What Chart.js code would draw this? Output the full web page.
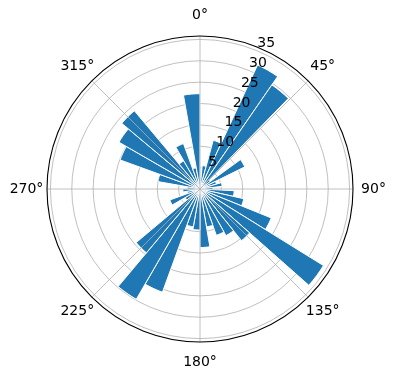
<!DOCTYPE html>
<html><head><meta charset="utf-8">
<script src="https://cdn.jsdelivr.net/npm/chart.js@4"></script>
<style>html,body{margin:0;padding:0;background:#fff;}</style>
</head><body>
<canvas id="c" width="396" height="380"></canvas>
<script>
// start direction of each bin (degrees, clockwise from north); first bin is empty
const binStarts = [0,5.5,15.2,24.9,34.6,44.3,54,63.7,73.4,83.1,92.8,102.5,112.1,121.8,131.5,141.2,150.9,160.6,170.3,
                   180,190,200,210,220,230,240,250,260,270,280,290,300,310,320,330,340,350];
const radii = [0,5.5,11.8,32,29.6,3,11.7,4,5.2,3,8,10.5,18,34,15.5,12.5,11.5,9,13.7,
               9.6,9,25.7,29.8,19.5,4,7.5,3,4,3,10,19.9,21.9,23.9,7.6,11.3,5,22.3];
const rTicks = [5,10,15,20,25,30,35];
const rTickLabels = ['5','10','15','20','25','30','35'];
const thetaTicks = [0,45,90,135,180,225,270,315];
const thetaLabels = ['0°','45°','90°','135°','180°','225°','270°','315°'];
const rMax = 35.8;
const rLabelAngle = 22.5;

const binWidths = binStarts.map((s, i) => (i + 1 < binStarts.length ? binStarts[i + 1] : 360) - s);

const FONT = '14px "DejaVu Sans"';
const toRad = d => (d - 90) * Math.PI / 180;

const polarDecor = {
  id: 'polarDecor',
  afterDraw(chart) {
    const s = chart.scales.r;
    const ctx = chart.ctx;
    const cx = s.xCenter, cy = s.yCenter, R = s.drawingArea;
    ctx.save();
    ctx.strokeStyle = '#b0b0b0';
    ctx.lineWidth = 0.8;
    thetaTicks.forEach(t => {
      const a = toRad(t);
      ctx.beginPath();
      ctx.moveTo(cx, cy);
      ctx.lineTo(cx + R * Math.cos(a), cy + R * Math.sin(a));
      ctx.stroke();
    });
    ctx.strokeStyle = '#000';
    ctx.lineWidth = 1.1;
    ctx.beginPath();
    ctx.arc(cx, cy, R, 0, 2 * Math.PI);
    ctx.stroke();
    ctx.fillStyle = '#000';
    ctx.font = FONT;
    ctx.textAlign = 'left';
    ctx.textBaseline = 'bottom';
    const ra = toRad(rLabelAngle);
    rTicks.forEach((v, i) => {
      const d = s.getDistanceFromCenterForValue(v);
      ctx.fillText(rTickLabels[i], cx + d * Math.cos(ra), cy + d * Math.sin(ra));
    });
    ctx.textAlign = 'center';
    ctx.textBaseline = 'middle';
    thetaTicks.forEach((t, i) => {
      const a = toRad(t);
      ctx.fillText(thetaLabels[i], cx + (R + 20.5) * Math.cos(a), cy + (R + 20.5) * Math.sin(a));
    });
    ctx.restore();
  }
};

new Chart(document.getElementById('c'), {
  type: 'polarArea',
  data: {
    labels: binStarts.map(d => d + '°'),
    datasets: [{
      data: radii,
      angle: ctx => binWidths[ctx.dataIndex],
      backgroundColor: ctx => radii[ctx.dataIndex] > 0 ? '#1f77b4' : 'rgba(0,0,0,0)',
      borderColor: '#ffffff',
      borderWidth: ctx => radii[ctx.dataIndex] > 0 ? 1 : 0
    }]
  },
  options: {
    responsive: false,
    animation: false,
    devicePixelRatio: 1,
    layout: { padding: { top: 36, bottom: 37, left: 46, right: 42 } },
    plugins: { legend: { display: false }, tooltip: { enabled: false } },
    scales: {
      r: {
        min: 0,
        max: rMax,
        z: 1,
        startAngle: binStarts[0],
        ticks: { display: false, stepSize: 5, includeBounds: false },
        grid: { color: '#b0b0b0', lineWidth: 0.8, circular: true },
        angleLines: { display: false },
        pointLabels: { display: false }
      }
    }
  },
  plugins: [polarDecor]
});
</script>
</body></html>
